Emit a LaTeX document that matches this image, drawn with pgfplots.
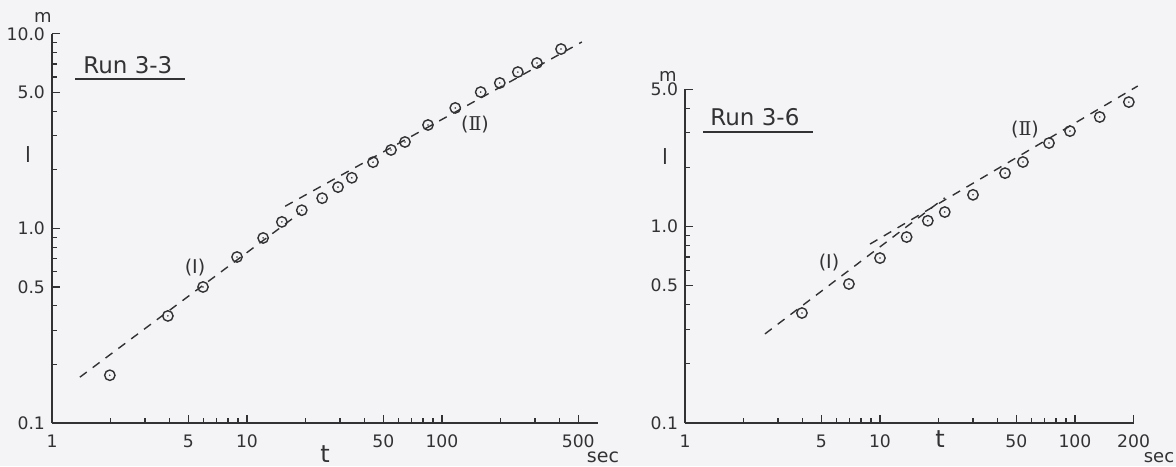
\documentclass[border=0pt]{standalone}
\usepackage{fontspec}
\setmainfont{DejaVu Sans}
\newfontfamily\romfont{DejaVu Serif}
\usepackage{pgfplots}
\pgfplotsset{compat=1.18}
\definecolor{ink}{RGB}{50,50,52}
\definecolor{paper}{RGB}{244,244,246}
\pgfdeclareplotmark{odot}{%
  \pgfpathcircle{\pgfpointorigin}{\pgfplotmarksize}\pgfusepathqstroke
  \pgfpathcircle{\pgfpointorigin}{0.45pt}\pgfusepathqfill}
\begin{document}
\begin{tikzpicture}
\fill[paper] (0pt,0pt) rectangle (588pt,233pt);
\path[use as bounding box] (0pt,0pt) rectangle (588pt,233pt);

% ---------------- Left: Run 3-3 ----------------
\begin{axis}[
  scale only axis, clip=false,
  xmode=log, ymode=log,
  axis x line=bottom, axis y line=left,
  axis line style={-, ink, line width=0.7pt},
  tick align=inside,
  major tick length=4pt, minor tick length=2.6pt,
  tick style={ink, line width=0.6pt},
  ticklabel style={font=\fontsize{8.6}{9}\selectfont, text=ink},
  xticklabel style={yshift=-2.5pt},
  at={(26pt,21.5pt)}, anchor=south west,
  width=272.9pt, height=194.6pt,
  xmin=1, xmax=630, ymin=0.1, ymax=10,
  xtick={1,5,10,50,100,500}, xticklabels={1,5,10,50,100,500},
  minor xtick={2,3,4,6,7,8,9,20,30,40,60,70,80,90,200,300,400},
  ytick={0.1,0.5,1,5,10}, yticklabels={0.1,0.5,1.0,5.0,10.0},
  minor ytick={0.2,0.3,0.4,0.6,0.7,0.8,0.9,2,3,4,6,7,8,9},
]
\addplot[no marks, ink, line width=0.7pt, dash pattern=on 4.3pt off 3.7pt] coordinates {(1.39,0.172) (18.7,1.2)};
\addplot[no marks, ink, line width=0.7pt, dash pattern=on 4.3pt off 3.7pt] coordinates {(15.7,1.30) (522,9.08)};
\addplot[only marks, mark=odot, mark size=2.6pt, mark options={line width=0.7pt, ink}] coordinates {
 (1.98,0.176) (3.93,0.355) (5.95,0.50) (8.89,0.713) (12.1,0.893)
 (15.1,1.08) (19.1,1.24) (24.3,1.43) (29.3,1.63) (34.5,1.82)
 (44.3,2.19) (54.8,2.53) (64.6,2.78) (84.8,3.40) (117,4.16)
 (158,5.02) (198,5.59) (245,6.36) (307,7.08) (408,8.35)};
\end{axis}

% ---------------- Right: Run 3-6 ----------------
\begin{axis}[
  scale only axis, clip=false,
  xmode=log, ymode=log,
  axis x line=bottom, axis y line=left,
  axis line style={-, ink, line width=0.7pt},
  tick align=inside,
  major tick length=4pt, minor tick length=2.6pt,
  tick style={ink, line width=0.6pt},
  ticklabel style={font=\fontsize{8.6}{9}\selectfont, text=ink},
  xticklabel style={yshift=-2.5pt},
  at={(342.5pt,21.5pt)}, anchor=south west,
  width=224.3pt, height=166.9pt,
  xmin=1, xmax=200, ymin=0.1, ymax=5,
  xtick={1,5,10,50,100,200}, xticklabels={1,5,10,50,100,200},
  minor xtick={2,3,4,6,7,8,9,20,30,40,60,70,80,90},
  ytick={0.1,0.5,1,5}, yticklabels={0.1,0.5,1.0,5.0},
  minor ytick={0.2,0.3,0.4,0.6,0.7,0.8,0.9,2,3,4},
]
\addplot[no marks, ink, line width=0.7pt, dash pattern=on 4.3pt off 3.7pt] coordinates {(2.57,0.284) (21.5,1.40)};
\addplot[no marks, ink, line width=0.7pt, dash pattern=on 4.3pt off 3.7pt] coordinates {(8.89,0.814) (210,5.19)};
\addplot[only marks, mark=odot, mark size=2.6pt, mark options={line width=0.7pt, ink}] coordinates {
 (3.98,0.363) (6.93,0.510) (10.0,0.691) (13.7,0.884) (17.6,1.07)
 (21.5,1.185) (30.0,1.45) (43.8,1.87) (54.1,2.13) (73.6,2.66)
 (94.3,3.06) (134,3.61) (189,4.30)};
\end{axis}

% ---------------- Texts ----------------
\begin{scope}[every node/.style={text=ink, inner sep=0pt}]
\node[font=\fontsize{11.5}{12}\selectfont, anchor=base west] at (41.5pt,196pt) {Run 3-3};
\draw[ink, line width=0.7pt] (37.5pt,193.5pt) -- (92.5pt,193.5pt);
\node[font=\fontsize{11.5}{12}\selectfont, anchor=base west] at (355pt,170pt) {Run 3-6};
\draw[ink, line width=0.7pt] (351.5pt,167pt) -- (406.5pt,167pt);

\node[font=\fontsize{9}{10}\selectfont] at (21.5pt,224.5pt) {m};
\node[font=\fontsize{9}{10}\selectfont] at (334pt,195pt) {m};
\node[font=\fontsize{10.5}{11}\selectfont] at (14pt,155.5pt) {l};
\node[font=\fontsize{10.5}{11}\selectfont] at (332.5pt,154.5pt) {l};
\node[font=\fontsize{12}{13}\selectfont, anchor=base] at (162.5pt,2pt) {t};
\node[font=\fontsize{12}{13}\selectfont, anchor=base] at (470pt,9.5pt) {t};
\node[font=\fontsize{9.5}{10}\selectfont, anchor=base] at (301.5pt,2pt) {sec};
\node[font=\fontsize{9}{10}\selectfont, anchor=base] at (579.5pt,2pt) {sec};

\node[font=\fontsize{9.5}{10}\selectfont] at (97.5pt,99pt) {(I)};
\node[font=\fontsize{9.5}{10}\selectfont] at (237.5pt,170.5pt) {({\romfont Ⅱ})};
\node[font=\fontsize{9.5}{10}\selectfont] at (414.5pt,101.5pt) {(I)};
\node[font=\fontsize{9.5}{10}\selectfont] at (512.5pt,168pt) {({\romfont Ⅱ})};
\end{scope}
\end{tikzpicture}
\end{document}
